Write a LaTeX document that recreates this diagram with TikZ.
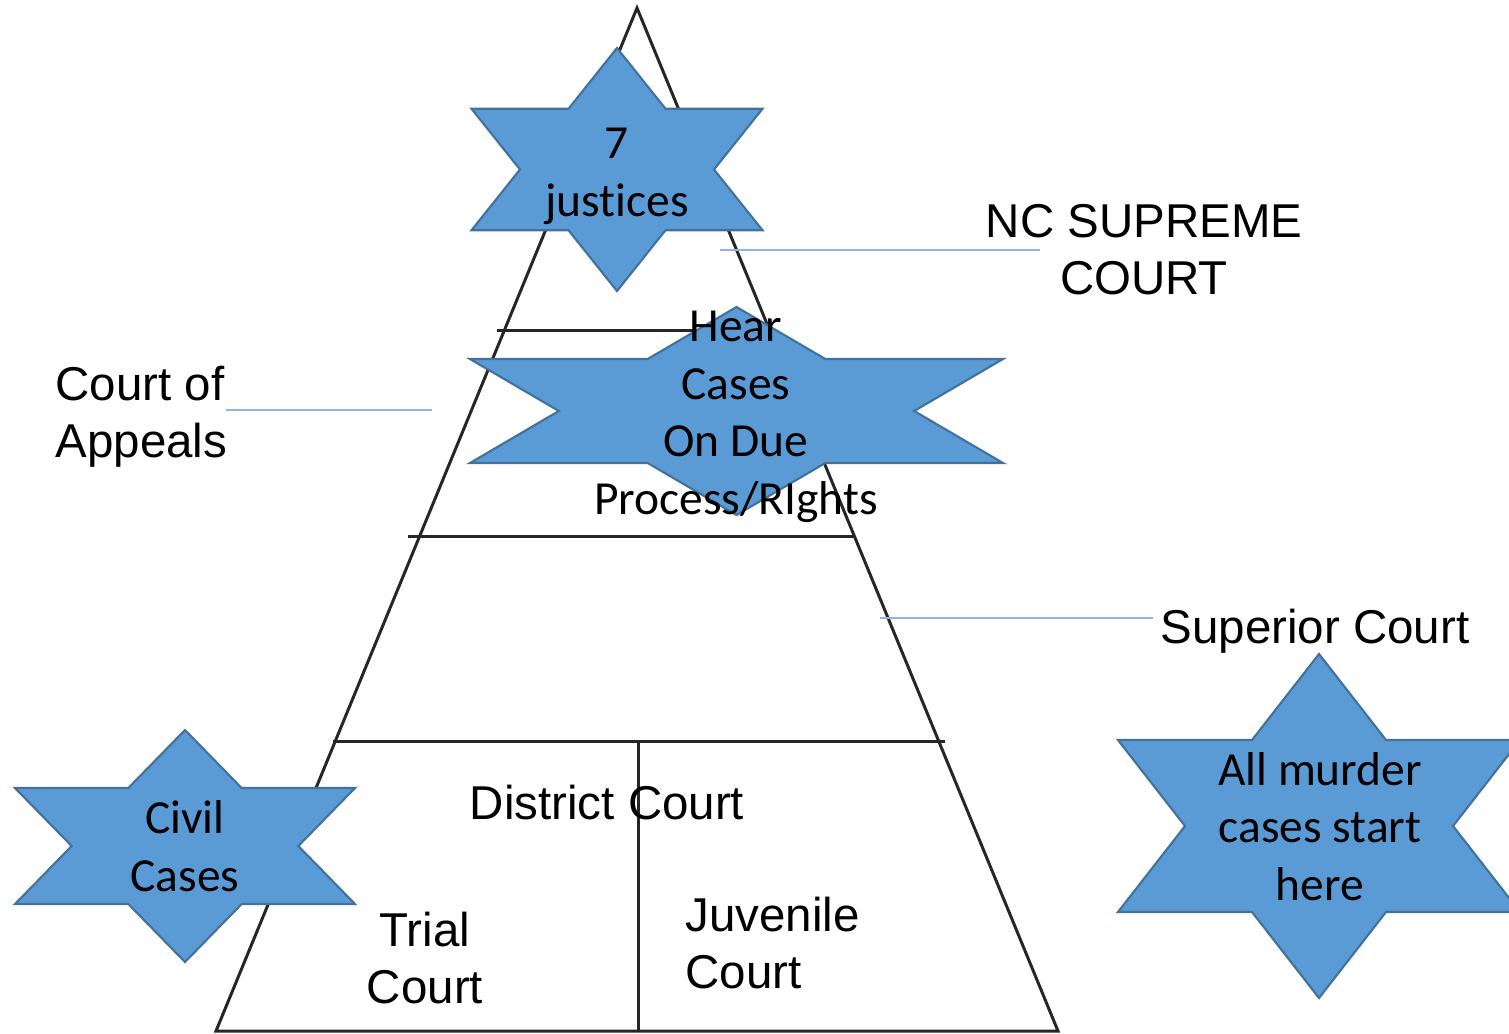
\documentclass[tikz,border=0pt]{standalone}
\usepackage{fontspec}
\setmainfont{Liberation Sans}
\newfontfamily\calibrifont[Ligatures=NoCommon]{Carlito}
\usepackage{tikz}
\usetikzlibrary{calc}

\definecolor{starfill}{HTML}{5B9BD5}
\definecolor{starline}{HTML}{41719C}
\definecolor{leaderblue}{HTML}{8EB4E3}

\tikzset{
  tier/.style = {line width=0.85pt, black!85},
  leader/.style = {leaderblue, line width=0.5pt},
  starshape/.style = {fill=starfill, draw=starline, line width=0.6pt, line join=miter},
  startext/.style = {font=\calibrifont\fontsize{13.5}{16.4}\selectfont, align=center, inner sep=0pt},
  courttext/.style = {font=\fontsize{13.5}{16.2}\selectfont, inner sep=0pt}
}

% six pointed star: centre x, centre y, half width, half height
\newcommand{\hexstar}[4]{%
  \draw[starshape, shift={(#1,#2)}, xscale=#3, yscale=#4]
    (0,-1) -- (1/3,-1/2) -- (1,-1/2) -- (2/3,0) -- (1,1/2) -- (1/3,1/2)
    -- (0,1) -- (-1/3,1/2) -- (-1,1/2) -- (-2/3,0) -- (-1,-1/2) -- (-1/3,-1/2) -- cycle;}

\begin{document}
\begin{tikzpicture}[x=0.01cm, y=-0.01cm]
\useasboundingbox (0,0) rectangle (1509,1033);

% pyramid and its tiers
\draw[tier] (637,8) coordinate (apex) -- (1058,1031) coordinate (baseR)
  -- (216,1031) coordinate (baseL) -- cycle;
\draw[tier] (497,330) coordinate (t1L) -- (770,330) coordinate (t1R);
\draw[tier] (408,536) coordinate (t2L) -- (855,536) coordinate (t2R);
\draw[tier] (333,741) coordinate (t3L) -- (945,741) coordinate (t3R);
\draw[tier] (638,741) coordinate (splitT) -- (638,1031) coordinate (splitB);

% court names
\node[courttext, align=center] (supreme) at (1144,250) {NC SUPREME\\COURT};
\node[courttext, align=left, anchor=west] (appeals) at (55,417) {Court of\\Appeals};
\node[courttext, anchor=west] (superior) at (1160,631) {Superior Court};
\coordinate (supTip) at (720,250);
\coordinate (supEnd) at (1040,250);
\coordinate (appTip) at (432,410);
\coordinate (appEnd) at (226,410);
\coordinate (sprTip) at (880,618);
\coordinate (sprEnd) at (1153,618);
\draw[leader] (supTip) -- (supEnd);
\draw[leader] (appTip) -- (appEnd);
\draw[leader] (sprTip) -- (sprEnd);

% stars
\hexstar{617}{169.5}{145.5}{121.5}
\hexstar{736.5}{411}{266.5}{104}
\hexstar{1319}{826}{201}{172}
\hexstar{185}{846}{170}{116}

\node[startext] (justices) at (617,176) {7\\justices};
\node[startext] (dueprocess) at (736,417) {Hear\\Cases\\On Due\\Process/RIghts};
\node[startext] (murder) at (1320,826.5) {All murder\\cases start\\here};
\node[startext] (civil) at (185,846) {Civil\\Cases};

% bottom tier
\node[courttext] (district) at (607,803) {District Court};
\node[courttext, align=center] (trial) at (425,958) {Trial\\Court};
\node[courttext, align=left, anchor=west] (juvenile) at (685,943) {Juvenile\\Court};
\end{tikzpicture}
\end{document}
